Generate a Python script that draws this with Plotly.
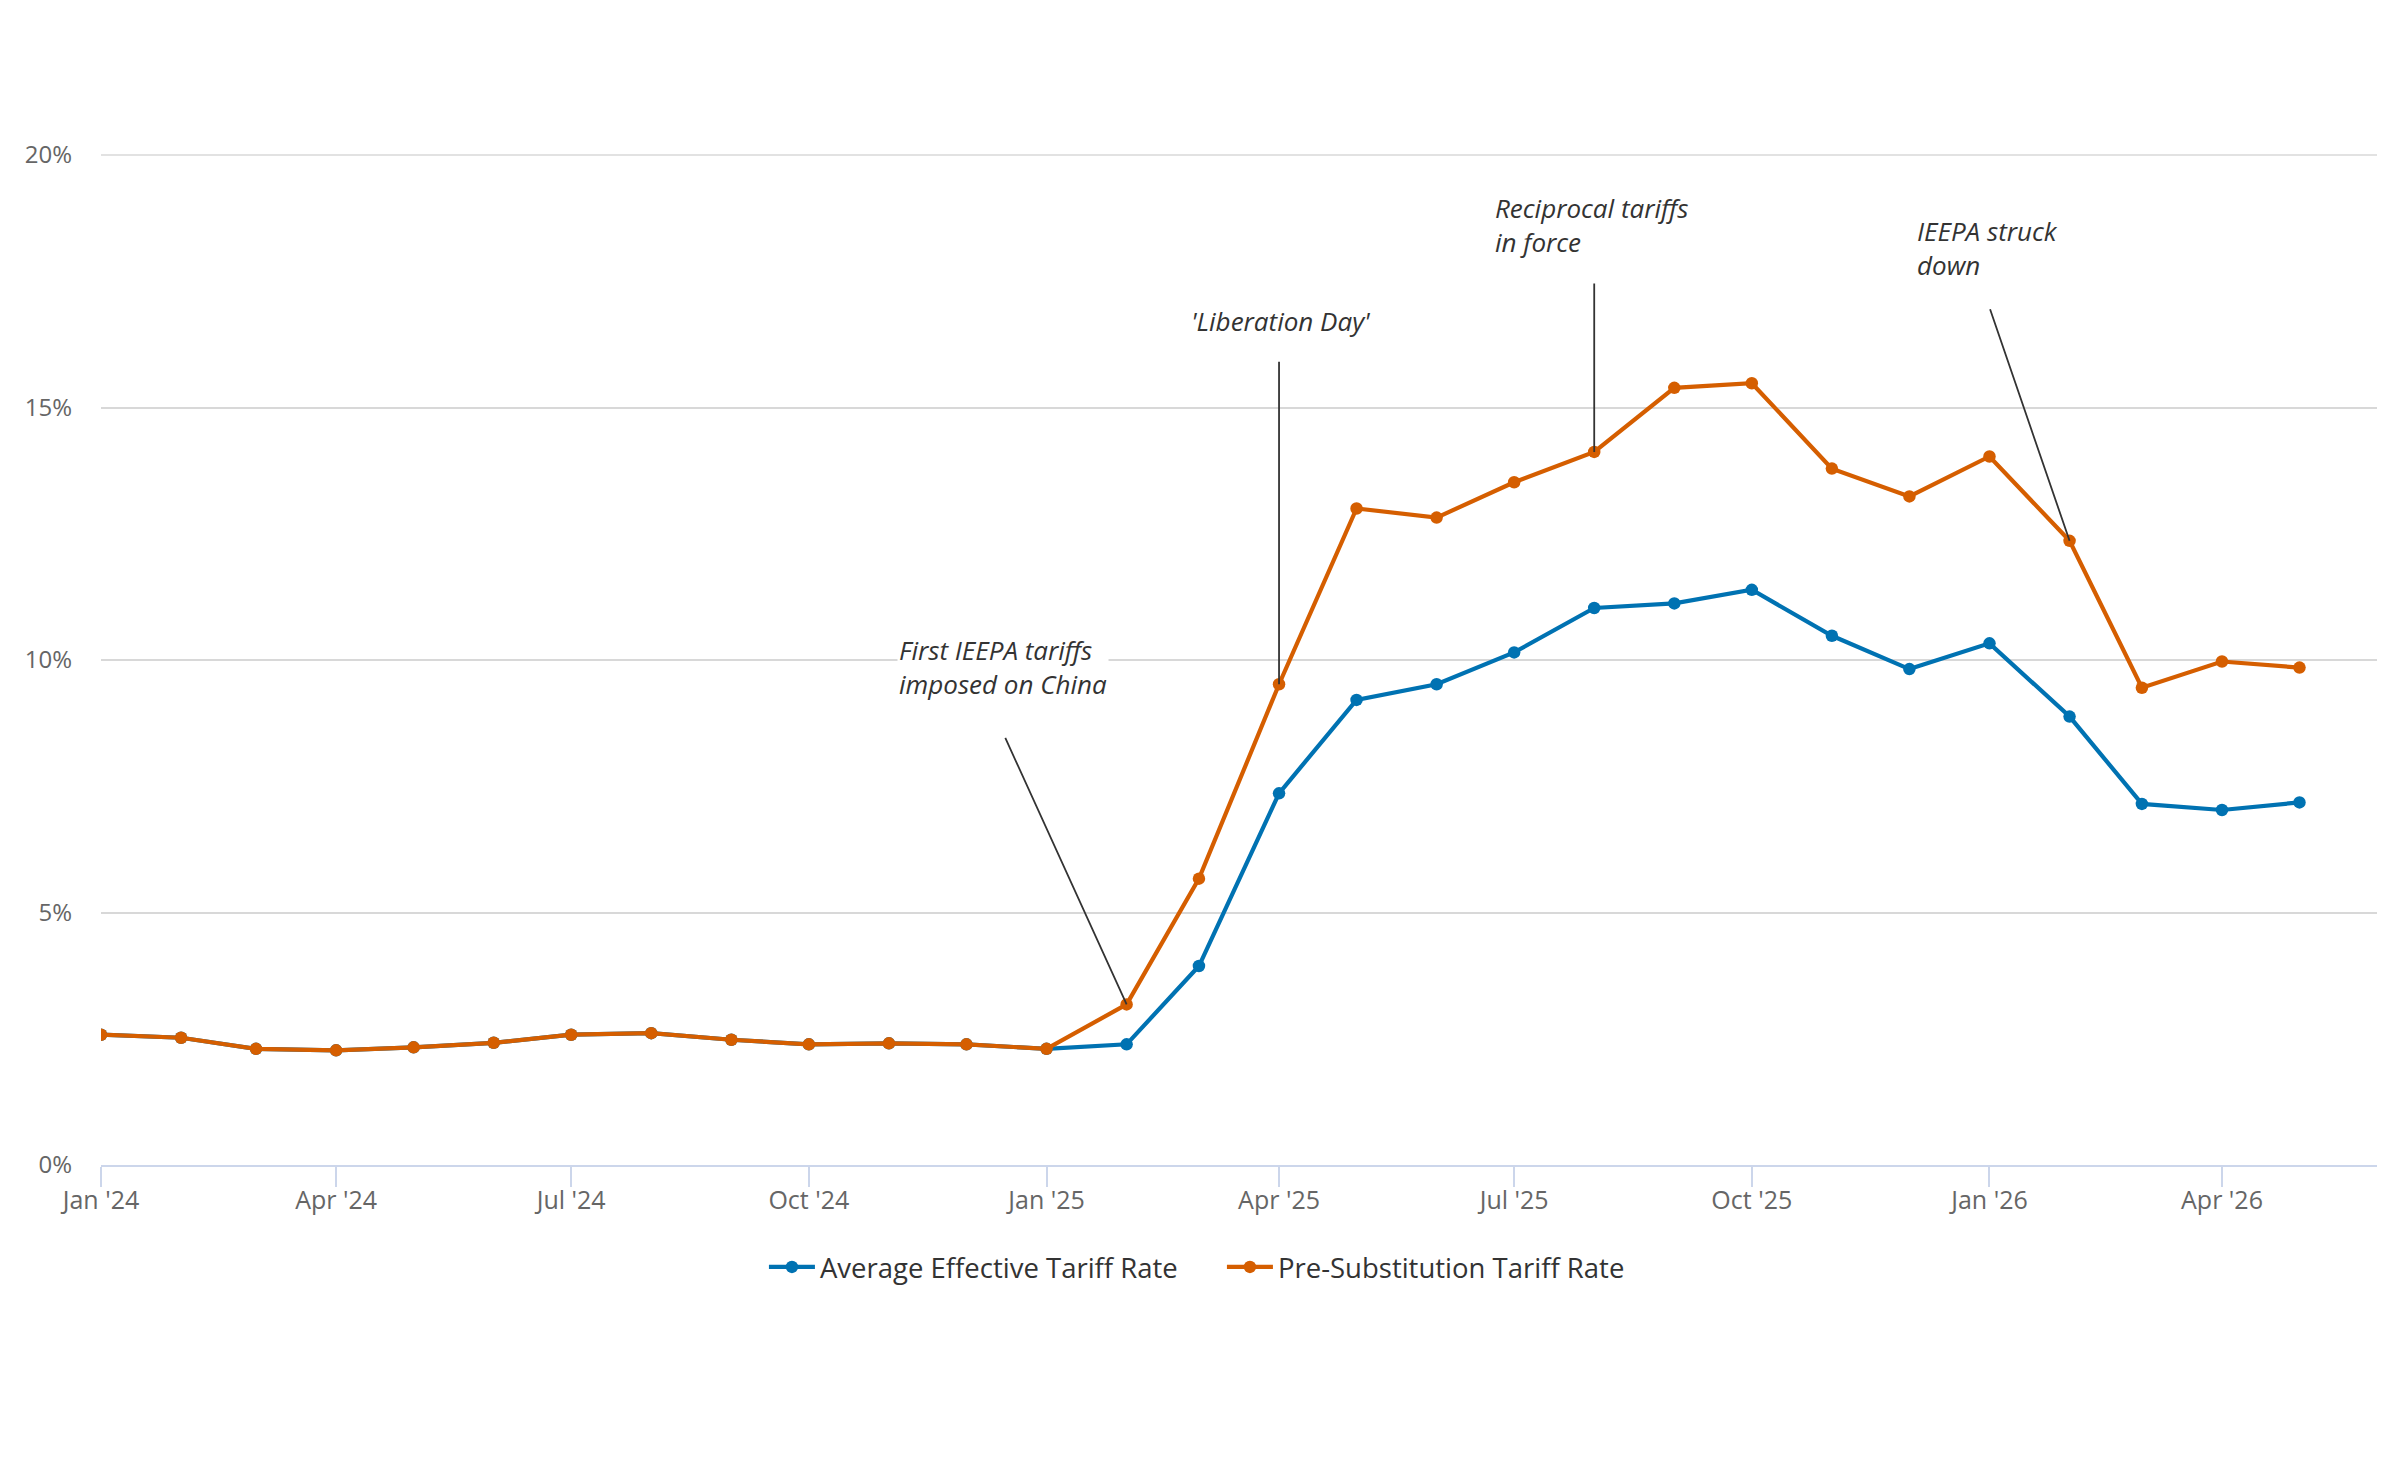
import plotly.graph_objects as go

months = ["2024-01-01","2024-02-01","2024-03-01","2024-04-01","2024-05-01","2024-06-01",
          "2024-07-01","2024-08-01","2024-09-01","2024-10-01","2024-11-01","2024-12-01",
          "2025-01-01","2025-02-01","2025-03-01","2025-04-01","2025-05-01","2025-06-01",
          "2025-07-01","2025-08-01","2025-09-01","2025-10-01","2025-11-01","2025-12-01",
          "2026-01-01","2026-02-01","2026-03-01","2026-04-01","2026-05-01"]

effective_rate = [2.58, 2.52, 2.30, 2.27, 2.33, 2.42, 2.58, 2.61, 2.48, 2.39, 2.41, 2.39,
                  2.30, 2.39, 3.94, 7.36, 9.21, 9.52, 10.15, 11.03, 11.12, 11.39, 10.48, 9.82,
                  10.33, 8.88, 7.15, 7.03, 7.18]

pre_substitution_rate = [2.58, 2.52, 2.30, 2.27, 2.33, 2.42, 2.58, 2.61, 2.48, 2.39, 2.41, 2.39,
                         2.30, 3.18, 5.67, 9.52, 13.00, 12.82, 13.52, 14.12, 15.39, 15.48, 13.79, 13.24,
                         14.03, 12.36, 9.45, 9.97, 9.85]

events = [
    ("2025-02-01", "First IEEPA tariffs<br>imposed on China"),
    ("2025-04-01", "'Liberation Day'"),
    ("2025-08-01", "Reciprocal tariffs<br>in force"),
    ("2026-02-01", "IEEPA struck<br>down"),
]

y_max = 20

BLUE = "#0072b2"
ORANGE = "#d55e00"

fig = go.Figure()
fig.add_trace(go.Scatter(x=months, y=effective_rate, mode="lines+markers",
                         name="Average Effective Tariff Rate",
                         line=dict(color=BLUE, width=4.2), marker=dict(size=12.5, color=BLUE)))
fig.add_trace(go.Scatter(x=months, y=pre_substitution_rate, mode="lines+markers",
                         name="Pre-Substitution Tariff Rate",
                         line=dict(color=ORANGE, width=4.2), marker=dict(size=12.5, color=ORANGE)))

# annotation geometry (pixel offsets): arrow tail (ax, ay), text shift (xs, ys)
geom = [(-122, -268, -227, 306), (0, -324, -87, 349), (0, -170, -98, 196), (-80, -233, -152, 262)]
lookup = dict(zip(months, pre_substitution_rate))
for (d, label), (ax, ay, xs, ys) in zip(events, geom):
    yv = lookup[d]
    fig.add_annotation(x=d, y=yv, xref="x", yref="y", text="", showarrow=True,
                       arrowhead=0, arrowwidth=1.8, arrowcolor="#333333",
                       ax=ax, ay=ay, axref="pixel", ayref="pixel", standoff=0)
    fig.add_annotation(x=d, y=yv, xref="x", yref="y", text=label, showarrow=False,
                       xanchor="left", yanchor="bottom", align="left",
                       xshift=xs - 3, yshift=ys - 6, bgcolor="white",
                       font=dict(family="Open Sans", size=26, color="#333333", style="italic"))

# top gridline at the axis maximum (not clipped)
fig.add_shape(type="line", xref="paper", yref="paper", x0=0, x1=1, y0=1, y1=1,
              line=dict(color="#d8d8d8", width=1.5), layer="below")

fig.update_layout(
    width=2400, height=1470,
    margin=dict(l=101, r=23, t=155, b=305),
    paper_bgcolor="white", plot_bgcolor="white",
    font=dict(family="Open Sans", color="#666666"),
    showlegend=True,
    legend=dict(orientation="h", x=0.4925, xanchor="center", y=-0.101, yanchor="middle",
                font=dict(size=27.5, color="#333333"), itemwidth=46,
                entrywidth=397, entrywidthmode="pixels"),
    hovermode=False,
)
fig.update_xaxes(type="date", range=["2024-01-01", "2026-05-31"],
                 tick0="2024-01-01", dtick="M3", tickformat="%b '%y",
                 showgrid=False, showline=True, linecolor="#ccd6eb", linewidth=2,
                 ticks="outside", ticklen=20, tickcolor="#ccd6eb", tickwidth=1.5,
                 ticklabelstandoff=-8,
                 tickfont=dict(size=25, color="#666666"), zeroline=False)
fig.update_yaxes(range=[0, y_max], dtick=5, ticksuffix="%", showgrid=True,
                 gridcolor="#d8d8d8", gridwidth=1.5, zeroline=False, showline=False,
                 ticklabelstandoff=28, tickfont=dict(size=24, color="#666666"))

fig.write_html("out.html")
